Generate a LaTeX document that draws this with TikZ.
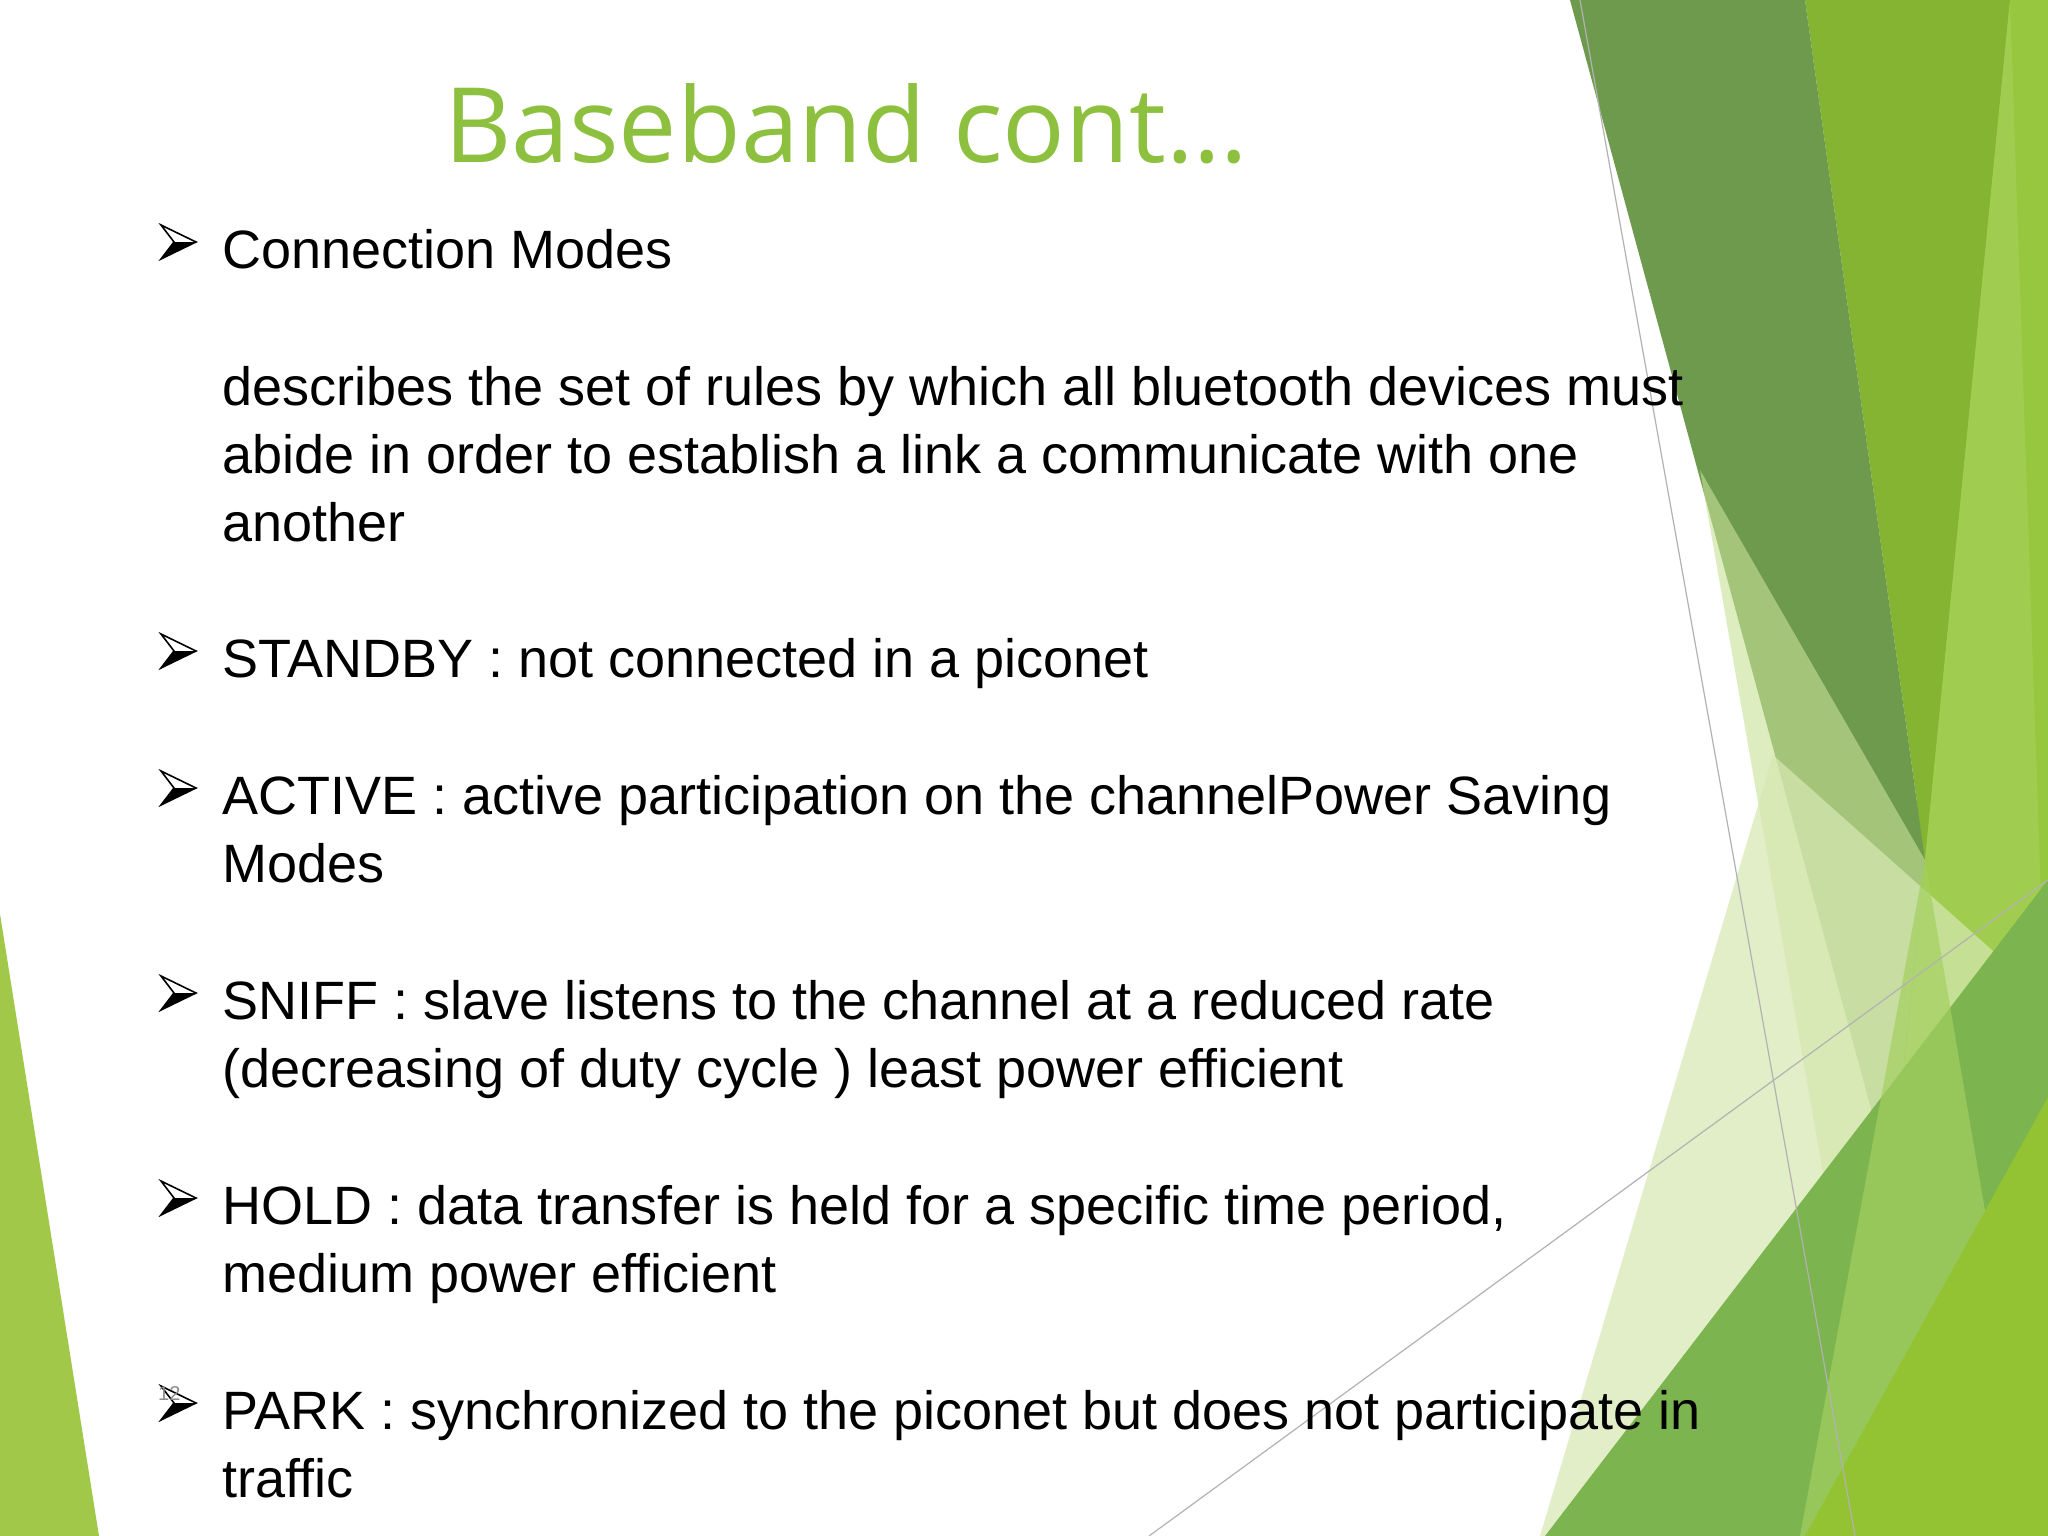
\documentclass[tikz,border=0pt]{standalone}
\usepackage{fontspec}
\setmainfont{Liberation Sans}
\newfontfamily\titlefont{Open Sans}
\begin{document}
\begin{tikzpicture}[x=1pt,y=-1pt,
  body/.style={anchor=base west,inner sep=0pt,font=\fontsize{54}{64}\selectfont},
  thinline/.style={draw=black!30,line width=1.2pt}]
\useasboundingbox (0,0) rectangle (2048,1536);
\fill[white] (0,0) rectangle (2048,1536);
% left triangle
\fill[fill={rgb,255:red,162;green,200;blue,74}] (0,914) -- (99,1536) -- (0,1536) -- cycle;
% right decoration
\fill[fill={rgb,255:red,151;green,198;blue,63}] (1990,0) -- (2048,0) -- (2048,1536) -- (1850,1536) -- cycle;
\fill[fill={rgb,255:red,132;green,180;blue,50}] (1805,0) -- (2010,0) -- (1925,860) -- cycle;
\fill[fill={rgb,255:red,160;green,205;blue,80}] (2010,0) -- (1925,860) -- (1860,1536) -- (2048,1536) -- (2048,1100) -- cycle;
\fill[fill={rgb,255:red,110;green,154;blue,78}] (1570,0) -- (1805,0) -- (1925,860) -- (1892,1186) -- cycle;
\fill[fill={rgb,255:red,200;green,225;blue,150},opacity=0.6] (1700,470) -- (1925,860) -- (1866,1420) -- cycle;
\fill[fill={rgb,255:red,214;green,232;blue,178},opacity=0.7] (1540,1536) -- (1773,755) -- (2048,1000) -- (2048,1536) -- cycle;
\fill[fill={rgb,255:red,124;green,180;blue,79}] (1545,1536) -- (2048,880) -- (2048,1536) -- cycle;
\fill[fill={rgb,255:red,163;green,208;blue,95},opacity=0.7] (1925,860) -- (1990,1240) -- (1860,1536) -- (1800,1536) -- cycle;
\fill[fill={rgb,255:red,147;green,194;blue,50}] (1805,1536) -- (2048,1097) -- (2048,1536) -- cycle;
\coordinate (la) at (1580,0); \coordinate (lb) at (1855,1536);
\coordinate (lc) at (1149,1536); \coordinate (ld) at (2048,880);
\draw[thinline] (la) -- (lb);
\draw[thinline] (lc) -- (ld);
% title
\node[anchor=base,inner sep=0pt,text={rgb,255:red,141;green,192;blue,63},font=\titlefont\fontsize{104}{120}\selectfont] (title) at (846,163) {Baseband cont…};
% bullets
\foreach \b in {268,677,814,1019,1224,1429}{
  \fill[black] (196,\b-26) -- (174,\b-26) -- (161,\b-9) -- cycle;
  \draw[black,line width=1.6pt,line join=miter] (196,\b-26) -- (161,\b-43) -- (174,\b-26) -- (161,\b-9) -- cycle;
}
\node[body] (t1) at (222,268) {Connection Modes};
\node[body] (t2) at (222,405) {describes the set of rules by which all bluetooth devices must};
\node[body] (t3) at (222,473) {abide in order to establish a link a communicate with one};
\node[body] (t4) at (222,541) {another};
\node[body] (t5) at (222,677) {STANDBY : not connected in a piconet};
\node[body] (t6) at (222,814) {ACTIVE : active participation on the channelPower Saving};
\node[body] (t7) at (222,882) {Modes};
\node[body] (t8) at (222,1019) {SNIFF : slave listens to the channel at a reduced rate};
\node[body] (t9) at (222,1087) {(decreasing of duty cycle ) least power efficient};
\node[body] (t10) at (222,1224) {HOLD : data transfer is held for a specific time period,};
\node[body] (t11) at (222,1292) {medium power efficient};
\node[body] (t12) at (222,1429) {PARK : synchronized to the piconet but does not participate in};
\node[body] (t13) at (222,1497) {traffic};
\node[anchor=base west,inner sep=0pt,text=black!45,font=\fontsize{20}{24}\selectfont] (pg) at (158,1400) {12};
\end{tikzpicture}
\end{document}
